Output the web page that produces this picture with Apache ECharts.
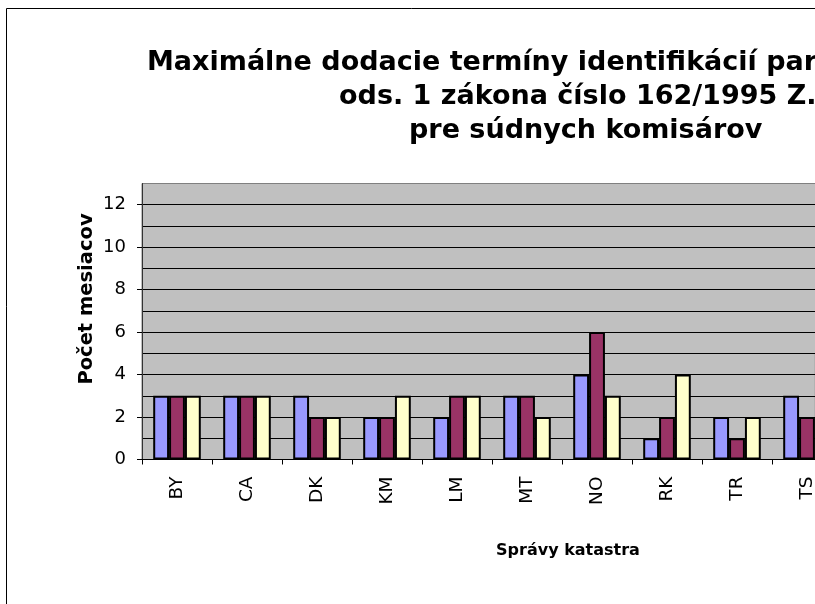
<!DOCTYPE html>
<html>
<head>
<meta charset="utf-8">
<script src="https://cdn.jsdelivr.net/npm/echarts@6/dist/echarts.min.js"></script>
<style>
html,body{margin:0;padding:0;background:#fff;}
#chart{width:815px;height:604px;}
</style>
</head>
<body>
<div id="chart"></div>
<script>
var categories = ['BY', 'CA', 'DK', 'KM', 'LM', 'MT', 'NO', 'RK', 'TR', 'TS'];
var series1 = [3, 3, 3, 2, 2, 3, 4, 1, 2, 3];
var series2 = [3, 3, 2, 2, 3, 3, 6, 2, 1, 2];
var series3 = [3, 3, 2, 3, 3, 2, 3, 4, 2, 5];
var yTicks = [0, 2, 4, 6, 8, 10, 12];
var titleLines = [
  'Maximálne dodacie termíny identifikácií parciel',
  'ods. 1 zákona číslo 162/1995 Z.z.',
  'pre súdnych komisárov'
];
var xTitle = 'Správy katastra';
var yTitle = 'Počet mesiacov';

var FONT = 'DejaVu Sans';
var chart = echarts.init(document.getElementById('chart'), null, {renderer: 'canvas'});

function bar(name, data, color) {
  return {
    name: name,
    type: 'bar',
    data: data,
    yAxisIndex: 0,
    barGap: '0%',
    barCategoryGap: '32%',
    itemStyle: {color: color, borderColor: '#000', borderWidth: 2},
    emphasis: {disabled: true},
    animation: false
  };
}

var option = {
  animation: false,
  backgroundColor: '#fff',
  grid: {
    left: 142, top: 183.5, width: 700, height: 276,
    outerBoundsMode: 'none',
    show: true, backgroundColor: '#C0C0C0', borderColor: '#808080', borderWidth: 1,
    containLabel: false
  },
  xAxis: {
    type: 'category',
    data: categories,
    boundaryGap: true,
    axisLine: {show: true, lineStyle: {color: '#000', width: 1}},
    axisTick: {show: true, length: 5, alignWithLabel: false, lineStyle: {color: '#000'}},
    axisLabel: {rotate: 90, margin: 17, fontFamily: FONT, fontSize: 18.5, color: '#000', interval: 0},
    splitLine: {show: false}
  },
  yAxis: [
    {
      type: 'value',
      min: 0, max: 13, interval: 1,
      axisLine: {show: true, lineStyle: {color: '#333', width: 1}},
      axisTick: {show: false},
      axisLabel: {show: false},
      splitLine: {show: true, showMaxLine: false, lineStyle: {color: '#000', width: 1}}
    },
    {
      type: 'value',
      position: 'left',
      min: 0, max: 13, interval: 2,
      axisLine: {show: false},
      axisTick: {show: true, length: 5, customValues: yTicks, lineStyle: {color: '#000'}},
      axisLabel: {margin: 16, fontFamily: FONT, fontSize: 18, color: '#000', customValues: yTicks},
      splitLine: {show: false}
    }
  ],
  series: [
    bar('Séria 1', series1, '#9999FF'),
    bar('Séria 2', series2, '#993366'),
    bar('Séria 3', series3, '#FFFFCC')
  ],
  graphic: [
    {type: 'rect', silent: true, z: -1, shape: {x: 6.5, y: 8.5, width: 1000, height: 800},
     style: {fill: 'none', stroke: '#000', lineWidth: 1}},
    {type: 'text', silent: true, x: 147, y: 63,
     style: {text: titleLines[0], font: 'bold 27px "' + FONT + '"', fill: '#000', textAlign: 'left', textVerticalAlign: 'middle'}},
    {type: 'text', silent: true, x: 339, y: 96.5,
     style: {text: titleLines[1], font: 'bold 27px "' + FONT + '"', fill: '#000', textAlign: 'left', textVerticalAlign: 'middle'}},
    {type: 'text', silent: true, x: 409, y: 130.5,
     style: {text: titleLines[2], font: 'bold 27px "' + FONT + '"', fill: '#000', textAlign: 'left', textVerticalAlign: 'middle'}},
    {type: 'text', silent: true, x: 568, y: 551,
     style: {text: xTitle, font: 'bold 16px "' + FONT + '"', fill: '#000', textAlign: 'center', textVerticalAlign: 'middle'}},
    {type: 'text', silent: true, x: 87, y: 299, rotation: Math.PI / 2,
     style: {text: yTitle, font: 'bold 19.5px "' + FONT + '"', fill: '#000', textAlign: 'center', textVerticalAlign: 'middle'}}
  ]
};
chart.setOption(option);
</script>
</body>
</html>
